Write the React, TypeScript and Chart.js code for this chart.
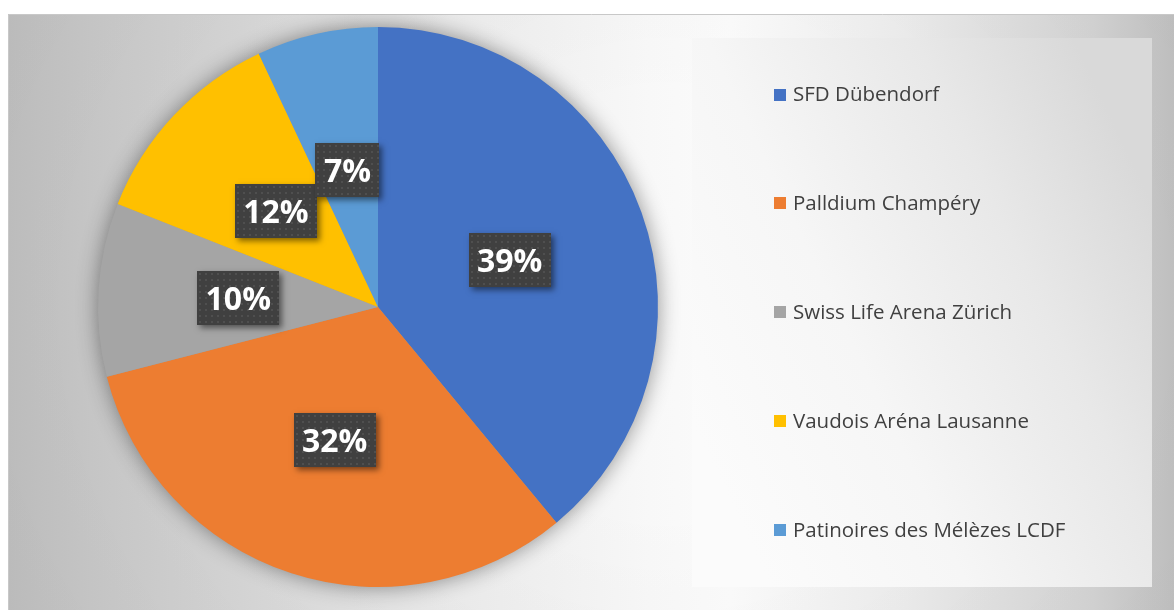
import React, { useEffect, useRef } from 'react';
import { Chart, registerables } from 'chart.js';

Chart.register(...registerables);

const categories = [
  'SFD Dübendorf',
  'Palldium Champéry',
  'Swiss Life Arena Zürich',
  'Vaudois Aréna Lausanne',
  'Patinoires des Mélèzes LCDF',
];
const shares = [39, 32, 10, 12, 7];
const sliceColors = ['#4472C4', '#ED7D31', '#A5A5A5', '#FFC000', '#5B9BD5'];

const W = 1166;
const H = 596;

function makeDotPattern(ctx: CanvasRenderingContext2D) {
  const c = document.createElement('canvas');
  c.width = 6;
  c.height = 6;
  const p = c.getContext('2d')!;
  p.fillStyle = '#404040';
  p.fillRect(0, 0, 6, 6);
  p.fillStyle = '#4f4f4f';
  p.fillRect(2, 2, 2, 2);
  return ctx.createPattern(c, 'repeat');
}

const backgroundPlugin = {
  id: 'bgPanel',
  beforeDraw(chart: any) {
    const ctx: CanvasRenderingContext2D = chart.ctx;
    ctx.save();
    const g = ctx.createLinearGradient(0, 0, W, 0);
    g.addColorStop(0, '#c4c4c4');
    g.addColorStop(0.08, '#cdcdcd');
    g.addColorStop(0.21, '#dadada');
    g.addColorStop(0.38, '#ececec');
    g.addColorStop(0.55, '#f8f8f8');
    g.addColorStop(0.62, '#fbfbfb');
    g.addColorStop(0.77, '#ededed');
    g.addColorStop(0.93, '#d6d6d6');
    g.addColorStop(1, '#c4c4c4');
    ctx.fillStyle = g;
    ctx.fillRect(0, 0, W, H);
    const r = ctx.createRadialGradient(660, 290, 200, 660, 290, 760);
    r.addColorStop(0, 'rgba(0,0,0,0)');
    r.addColorStop(1, 'rgba(0,0,0,0.05)');
    ctx.fillStyle = r;
    ctx.fillRect(0, 0, W, H);
    ctx.strokeStyle = '#c8c8c8';
    ctx.lineWidth = 1;
    ctx.beginPath();
    ctx.moveTo(0.5, H);
    ctx.lineTo(0.5, 0.5);
    ctx.lineTo(W, 0.5);
    ctx.stroke();
    const px = 684, py = 24, pw = 460, ph = 549;
    const lg = ctx.createLinearGradient(px, py + ph * 0.7, px + pw, py + ph * 0.3);
    lg.addColorStop(0, '#fbfbfb');
    lg.addColorStop(0.35, '#f6f6f6');
    lg.addColorStop(0.72, '#e8e8e8');
    lg.addColorStop(1, '#d9d9d9');
    ctx.fillStyle = lg;
    ctx.fillRect(px, py, pw, ph);
    ctx.restore();
  },
};

const pieShadowPlugin = {
  id: 'pieShadow',
  beforeDatasetsDraw(chart: any) {
    const meta = chart.getDatasetMeta(0);
    const arc = meta.data[0];
    if (!arc) return;
    const { x, y, outerRadius } = arc.getProps(['x', 'y', 'outerRadius'], true);
    const ctx: CanvasRenderingContext2D = chart.ctx;
    ctx.save();
    ctx.shadowColor = 'rgba(0,0,0,0.45)';
    ctx.shadowBlur = 22;
    ctx.fillStyle = '#9a9a9a';
    ctx.beginPath();
    ctx.arc(x, y, outerRadius - 1, 0, Math.PI * 2);
    ctx.fill();
    ctx.restore();
  },
};

const dataLabelPlugin = {
  id: 'boxLabels',
  afterDatasetsDraw(chart: any) {
    const ctx: CanvasRenderingContext2D = chart.ctx;
    const meta = chart.getDatasetMeta(0);
    const values: number[] = chart.data.datasets[0].data;
    const total = values.reduce((a, b) => a + b, 0);
    const pattern = makeDotPattern(ctx);
    ctx.save();
    ctx.font = 'bold 32px "Open Sans"';
    meta.data.forEach((el: any, i: number) => {
      const pos = el.tooltipPosition(true);
      const text = Math.round((values[i] / total) * 100) + '%';
      const tw = ctx.measureText(text).width;
      const bw = Math.round(tw + 17);
      const bh = 54;
      const bx = Math.round(pos.x - bw / 2);
      const by = Math.round(pos.y - bh / 2);
      ctx.save();
      ctx.shadowColor = 'rgba(0,0,0,0.5)';
      ctx.shadowBlur = 6;
      ctx.shadowOffsetX = 3;
      ctx.shadowOffsetY = 3;
      ctx.fillStyle = '#404040';
      ctx.fillRect(bx, by, bw, bh);
      ctx.restore();
      ctx.save();
      ctx.translate(bx, by);
      ctx.fillStyle = pattern || '#404040';
      ctx.fillRect(0, 0, bw, bh);
      ctx.restore();
      ctx.fillStyle = '#ffffff';
      ctx.textAlign = 'center';
      ctx.textBaseline = 'alphabetic';
      ctx.fillText(text, pos.x, pos.y + 12);
    });
    ctx.restore();
  },
};

const sideLegendPlugin = {
  id: 'sideLegend',
  afterDraw(chart: any) {
    const ctx: CanvasRenderingContext2D = chart.ctx;
    const items = (Chart as any).overrides.pie.plugins.legend.labels.generateLabels(chart);
    const boxX = 766;
    const firstY = 80.5;
    const step = 108.9;
    ctx.save();
    ctx.font = '20.5px "Open Sans"';
    ctx.textAlign = 'left';
    ctx.textBaseline = 'alphabetic';
    items.forEach((it: any, i: number) => {
      const cy = firstY + i * step;
      ctx.fillStyle = it.fillStyle;
      ctx.fillRect(boxX, Math.round(cy - 6), 12, 12);
      ctx.fillStyle = '#404040';
      ctx.fillText(it.text, boxX + 19, cy + 6.5);
    });
    ctx.restore();
  },
};

export default function App() {
  const canvasRef = useRef<HTMLCanvasElement | null>(null);

  useEffect(() => {
    const canvas = canvasRef.current;
    if (!canvas) return;
    const chart = new Chart(canvas, {
      type: 'pie',
      data: {
        labels: categories,
        datasets: [
          {
            data: shares,
            backgroundColor: sliceColors,
            borderWidth: 0,
          },
        ],
      },
      options: {
        responsive: false,
        animation: false,
        devicePixelRatio: 1,
        layout: { padding: { left: 90, right: 516, top: 13, bottom: 23 } },
        plugins: {
          legend: { display: false },
          tooltip: { enabled: false },
          title: { display: false },
        },
      },
      plugins: [backgroundPlugin, pieShadowPlugin, dataLabelPlugin, sideLegendPlugin],
    });
    return () => chart.destroy();
  }, []);

  return (
    <div style={{ position: 'absolute', left: 8, top: 14, width: W, height: H }}>
      <canvas ref={canvasRef} width={W} height={H} style={{ display: 'block' }} />
    </div>
  );
}
